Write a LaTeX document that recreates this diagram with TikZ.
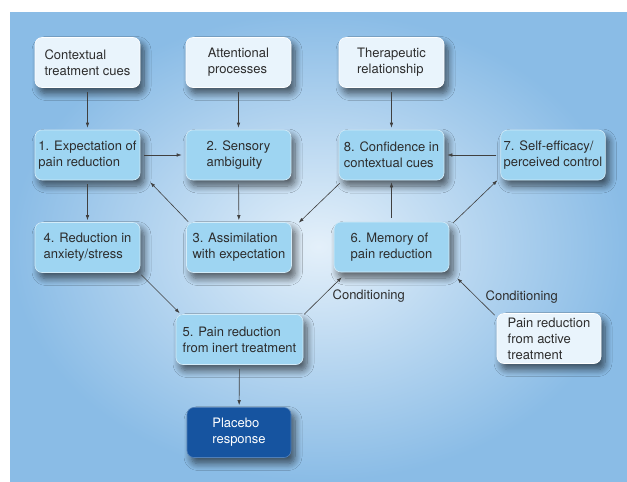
\documentclass[tikz,border=0pt]{standalone}
\usepackage{fontspec}
\setmainfont{TeX Gyre Heros}
\usetikzlibrary{arrows.meta,positioning,calc,shadows.blur}
\definecolor{bgblue}{RGB}{138,188,230}
\definecolor{bglight}{RGB}{228,240,250}
\definecolor{paleblue}{RGB}{233,244,252}
\definecolor{midblue}{RGB}{158,213,242}
\definecolor{darkblue}{RGB}{22,84,160}
\definecolor{textgray}{RGB}{45,45,45}

\begin{document}
\begin{tikzpicture}[x=1pt,y=-1pt,
    box/.style={rounded corners=7pt, minimum width=105pt, minimum height=50pt,
        inner sep=3pt, align=left, font=\fontsize{13}{16}\selectfont, text=textgray,
        draw=white!55!midblue, line width=0.6pt,
        blur shadow={shadow xshift=4pt, shadow yshift=-6pt, shadow blur radius=7pt,
            shadow blur steps=8, shadow opacity=60}},
    inbox/.style={box, fill=paleblue, draw=white},
    stepbox/.style={box, fill=midblue},
    outbox/.style={box, fill=darkblue, text=white, draw=darkblue!75!white},
    link/.style={-{Latex[length=5pt,width=3.5pt]}, draw=black!75, line width=0.6pt,
        shorten <=4pt, shorten >=2pt},
    diag/.style={link, shorten <=0pt, shorten >=0pt},
    lbl/.style={font=\fontsize{13}{16}\selectfont, text=textgray}]
    \useasboundingbox (0,0) rectangle (627,482);
    % --- Background ---
    \shade[inner color=bglight, outer color=bgblue] (10,12) rectangle (627,481);
    % --- Inputs (top row) ---
    \node[inbox] (ctx) at (87.5,62.5) {Contextual\\treatment cues};
    \node[inbox] (attn) at (238.5,62.5) {Attentional\\processes};
    \node[inbox] (ther) at (391.5,62.5) {Therapeutic\\relationship};
    % --- Steps ---
    \node[stepbox] (expect) at (87.5,155) {1. Expectation of\\pain reduction};
    \node[stepbox] (sensory) at (238.5,155) {2. Sensory\\ambiguity};
    \node[stepbox] (confid) at (391.5,155) {8. Confidence in\\contextual cues};
    \node[stepbox, minimum width=104pt] (selfeff) at (553,155) {7. Self-efficacy/\\perceived control};
    \node[stepbox] (anxiety) at (87.5,247.5) {4. Reduction in\\anxiety/stress};
    \node[stepbox] (assim) at (239,247.5) {3. Assimilation\\with expectation};
    \node[stepbox, minimum width=115pt] (memory) at (391.5,247) {6. Memory of\\pain reduction};
    \node[stepbox, minimum width=127pt] (inert) at (239.5,339.5) {5. Pain reduction\\from inert treatment};
    \node[inbox, minimum width=104pt] (active) at (549,338.5) {Pain reduction\\from active\\treatment};
    % --- Outcome ---
    \node[outbox, minimum width=104pt] (placebo) at (239,432.5) {Placebo\\response};
    % --- Straight links ---
    \draw[link] (ctx) -- (expect);
    \draw[link] (attn) -- (sensory);
    \draw[link] (ther) -- (confid);
    \draw[link, shorten >=4pt] (expect) -- (sensory);
    \draw[link, shorten >=3pt] (selfeff) -- (confid);
    \draw[link] (sensory) -- (assim);
    \draw[link] (expect) -- (anxiety);
    \draw[link] (memory) -- (confid);
    \draw[link] (inert) -- (placebo);
    % --- Diagonal links ---
    \draw[diag] ($(assim.north west)+(2,-0.5)$) -- ($(expect.south east)+(10,2)$);
    \draw[diag] ($(confid.south west)+(1,3)$) -- ($(assim.north east)+(7,0.5)$);
    \draw[diag] ($(memory.north east)+(4,1)$) -- ($(selfeff.south west)+(-3,0)$);
    \draw[diag] ($(anxiety.south east)+(1,2)$) -- ($(inert.north west)+(4,-1)$);
    \draw[diag] ($(inert.north east)+(1,0)$) -- node[lbl, right=6pt] {Conditioning}
        ($(memory.south west)+(8,5)$);
    \draw[diag] ($(active.north west)+(-2,2)$) -- node[lbl, right=6pt] {Conditioning}
        ($(memory.south east)+(8,6)$);
\end{tikzpicture}
\end{document}
